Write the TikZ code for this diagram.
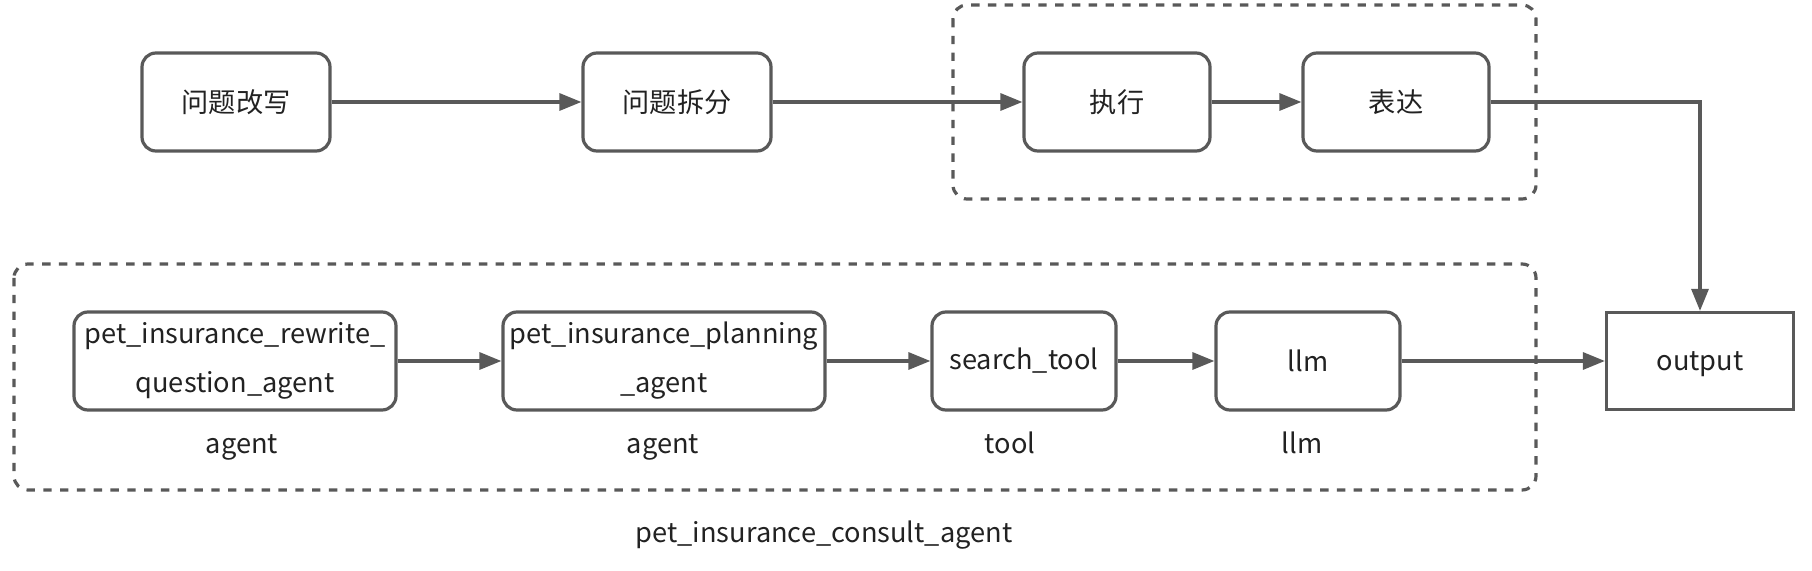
\documentclass[tikz,border=0pt]{standalone}
\usepackage{fontspec}
\setmainfont{Noto Sans CJK SC}
\usetikzlibrary{arrows.meta}

\definecolor{linegray}{HTML}{595959}
\definecolor{textgray}{HTML}{222222}

\begin{document}
\begin{tikzpicture}[x=0.5pt,y=-0.5pt,
  every node/.style={font=\fontsize{13.6pt}{24.5pt}\selectfont, text=textgray},
  stepbox/.style={draw=linegray, line width=1.6pt, rounded corners=7pt,
    minimum width=#1, minimum height=49pt, inner sep=0pt, align=center},
  outbox/.style={draw=linegray, line width=1.6pt, text height=13pt, text depth=3pt,
    minimum width=93.5pt, minimum height=48.5pt, inner sep=0pt},
  typelabel/.style={text height=10pt, text depth=3pt, inner sep=0pt},
  groupframe/.style={draw=linegray, line width=1.6pt, rounded corners=7pt,
    dash pattern=on 4.2pt off 4.2pt},
  arr/.style={draw=linegray, line width=1.6pt, -{Triangle[length=11pt,width=8.5pt]}}]

% Page size
\useasboundingbox (0,0) rectangle (1812,571);

% Dashed group frames
\draw[groupframe] (953,5) rectangle (1536,199);
\draw[groupframe] (14,264) rectangle (1536,490);

% Top row: steps
\node[stepbox=94pt] (rewrite) at (236,102) {问题改写};
\node[stepbox=94pt] (split) at (677,102) {问题拆分};
\node[stepbox=93pt] (exec) at (1117,102) {执行};
\node[stepbox=93pt] (say) at (1396,102) {表达};

% Bottom row: agents and tools
\node[stepbox=161pt] (rwagent) at (235,361) {pet\_insurance\_rewrite\_\\question\_agent};
\node[stepbox=161pt] (planagent) at (664,361) {pet\_insurance\_planning\\\_agent};
\node[stepbox=92pt] (search) at (1024,361) {search\_tool};
\node[stepbox=92pt] (llm) at (1308,361) {llm};

% Output
\node[outbox] (out) at (1700,361) {output};

% Type labels
\node[typelabel] (t1) at (242,447) {agent};
\node[typelabel] (t2) at (663,447) {agent};
\node[typelabel] (t3) at (1010,447) {tool};
\node[typelabel] (t4) at (1302,447) {llm};

% Group name
\node[typelabel] (grp) at (824,536) {pet\_insurance\_consult\_agent};

% Connectors
\draw[arr] (rewrite) -- (split);
\draw[arr] (split) -- (exec);
\draw[arr] (exec) -- (say);
\draw[arr] (say.east) -| (out.north);

\draw[arr] (rwagent) -- (planagent);
\draw[arr] (planagent) -- (search);
\draw[arr] (search) -- (llm);
\draw[arr] (llm) -- (out);

\end{tikzpicture}
\end{document}
